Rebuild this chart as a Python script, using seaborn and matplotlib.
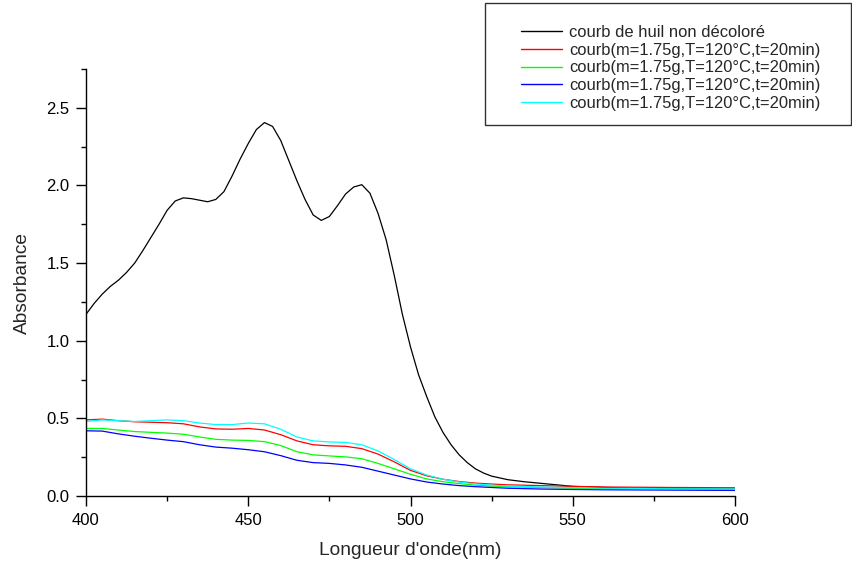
import numpy as np
import pandas as pd
import matplotlib
matplotlib.use("Agg")
import matplotlib.pyplot as plt
import matplotlib.patches as mpatches
from matplotlib.ticker import MultipleLocator
import seaborn as sns

# ---- data ----
wl_black = [400, 402.5, 405, 407.5, 410, 412.5, 415, 417.5, 420, 422.5, 425, 427.5,
            430, 432.5, 435, 437.5, 440, 442.5, 445, 447.5, 450, 452.5, 455, 457.5,
            460, 462.5, 465, 467.5, 470, 472.5, 475, 477.5, 480, 482.5, 485, 487.5,
            490, 492.5, 495, 497.5, 500, 502.5, 505, 507.5, 510, 512.5, 515, 517.5,
            520, 522.5, 525, 530, 535, 540, 545, 550, 560, 570, 580, 590, 600]
abs_black = [1.17, 1.24, 1.30, 1.35, 1.39, 1.44, 1.50, 1.58, 1.665, 1.75, 1.84, 1.90,
             1.92, 1.915, 1.905, 1.895, 1.91, 1.96, 2.06, 2.17, 2.27, 2.36, 2.405, 2.38,
             2.29, 2.16, 2.03, 1.91, 1.81, 1.775, 1.80, 1.87, 1.945, 1.99, 2.005, 1.95,
             1.82, 1.65, 1.42, 1.17, 0.96, 0.78, 0.64, 0.51, 0.41, 0.33, 0.265, 0.215,
             0.175, 0.148, 0.128, 0.105, 0.092, 0.082, 0.072, 0.062, 0.055, 0.05, 0.048, 0.046, 0.045]

wl_col = [400, 405, 410, 415, 420, 425, 430, 435, 440, 445, 450, 455, 460, 465, 470,
          475, 480, 485, 490, 495, 500, 505, 510, 515, 520, 525, 530, 540, 550, 560, 580, 600]
abs_red = [0.49, 0.495, 0.485, 0.478, 0.475, 0.472, 0.465, 0.445, 0.432, 0.43, 0.435, 0.425,
           0.395, 0.355, 0.33, 0.323, 0.32, 0.305, 0.27, 0.22, 0.165, 0.13, 0.108, 0.093,
           0.083, 0.077, 0.072, 0.067, 0.062, 0.058, 0.055, 0.053]
abs_green = [0.435, 0.435, 0.425, 0.415, 0.41, 0.405, 0.398, 0.38, 0.365, 0.36, 0.358, 0.35,
             0.325, 0.285, 0.265, 0.258, 0.252, 0.24, 0.21, 0.175, 0.14, 0.11, 0.092, 0.08,
             0.07, 0.064, 0.06, 0.055, 0.05, 0.047, 0.045, 0.043]
abs_blue = [0.42, 0.418, 0.40, 0.385, 0.372, 0.36, 0.35, 0.33, 0.315, 0.308, 0.298, 0.285,
            0.26, 0.23, 0.215, 0.21, 0.20, 0.185, 0.16, 0.135, 0.11, 0.09, 0.077, 0.067,
            0.06, 0.055, 0.05, 0.045, 0.042, 0.04, 0.038, 0.036]
abs_cyan = [0.48, 0.49, 0.485, 0.48, 0.485, 0.49, 0.485, 0.47, 0.46, 0.46, 0.47, 0.465,
            0.43, 0.38, 0.355, 0.348, 0.345, 0.33, 0.29, 0.235, 0.175, 0.135, 0.108, 0.09,
            0.078, 0.07, 0.064, 0.058, 0.054, 0.05, 0.046, 0.045]

labels = ["courb de huil non décoloré",
          "courb(m=1.75g,T=120°C,t=20min)",
          "courb(m=1.75g,T=120°C,t=20min)",
          "courb(m=1.75g,T=120°C,t=20min)",
          "courb(m=1.75g,T=120°C,t=20min)"]
colors = ["#000000", "#ff0000", "#00ff00", "#0000ff", "#00ffff"]

sns.set_style("ticks")
plt.rcParams['font.family'] = ['Liberation Sans', 'DejaVu Sans']

fig = plt.figure(figsize=(8.53, 5.63), dpi=100)
ax = fig.add_axes([86/853, 1 - 496/563, (735 - 86)/853, (496 - 69)/563])

series = [(wl_black, abs_black), (wl_col, abs_red), (wl_col, abs_green),
          (wl_col, abs_blue), (wl_col, abs_cyan)]
handles = []
for (x, y), c, lab in zip(series, colors, labels):
    df = pd.DataFrame({"wl": x, "abs": y})
    sns.lineplot(data=df, x="wl", y="abs", color=c, linewidth=0.9, ax=ax)
    handles.append(plt.Line2D([], [], color=c, linewidth=1.0))

ax.set_xlim(400, 600)
ax.set_ylim(0, 2.75)
ax.xaxis.set_major_locator(MultipleLocator(50))
ax.xaxis.set_minor_locator(MultipleLocator(25))
ax.yaxis.set_major_locator(MultipleLocator(0.5))
ax.yaxis.set_minor_locator(MultipleLocator(0.25))
ax.yaxis.set_major_formatter(matplotlib.ticker.FormatStrFormatter('%.1f'))
for s in ["top", "right"]:
    ax.spines[s].set_visible(False)
for s in ["left", "bottom"]:
    ax.spines[s].set_color("black")
    ax.spines[s].set_linewidth(1.0)
ax.tick_params(which="major", direction="out", length=7, width=1.0, colors="black",
               labelsize=12, pad=5)
ax.tick_params(which="minor", direction="out", length=3.5, width=1.0, colors="black")
ax.set_xlabel("Longueur d'onde(nm)", fontsize=13.8, labelpad=10)
ax.set_ylabel("Absorbance", fontsize=13.8, labelpad=11)

# legend with manual frame
leg = fig.legend(handles, labels, loc="upper left",
                 bbox_to_anchor=(521/853, 1 - 25/563), frameon=False,
                 fontsize=11.9, handlelength=2.5, handletextpad=0.42,
                 labelspacing=0.16, borderpad=0, borderaxespad=0)
rect = mpatches.Rectangle((485/853, 1 - 125/563), (851 - 485)/853, (125 - 3)/563,
                          transform=fig.transFigure, fill=False,
                          edgecolor="#333333", linewidth=1.0)
fig.patches.append(rect)

fig.savefig("out.png", dpi=100)
